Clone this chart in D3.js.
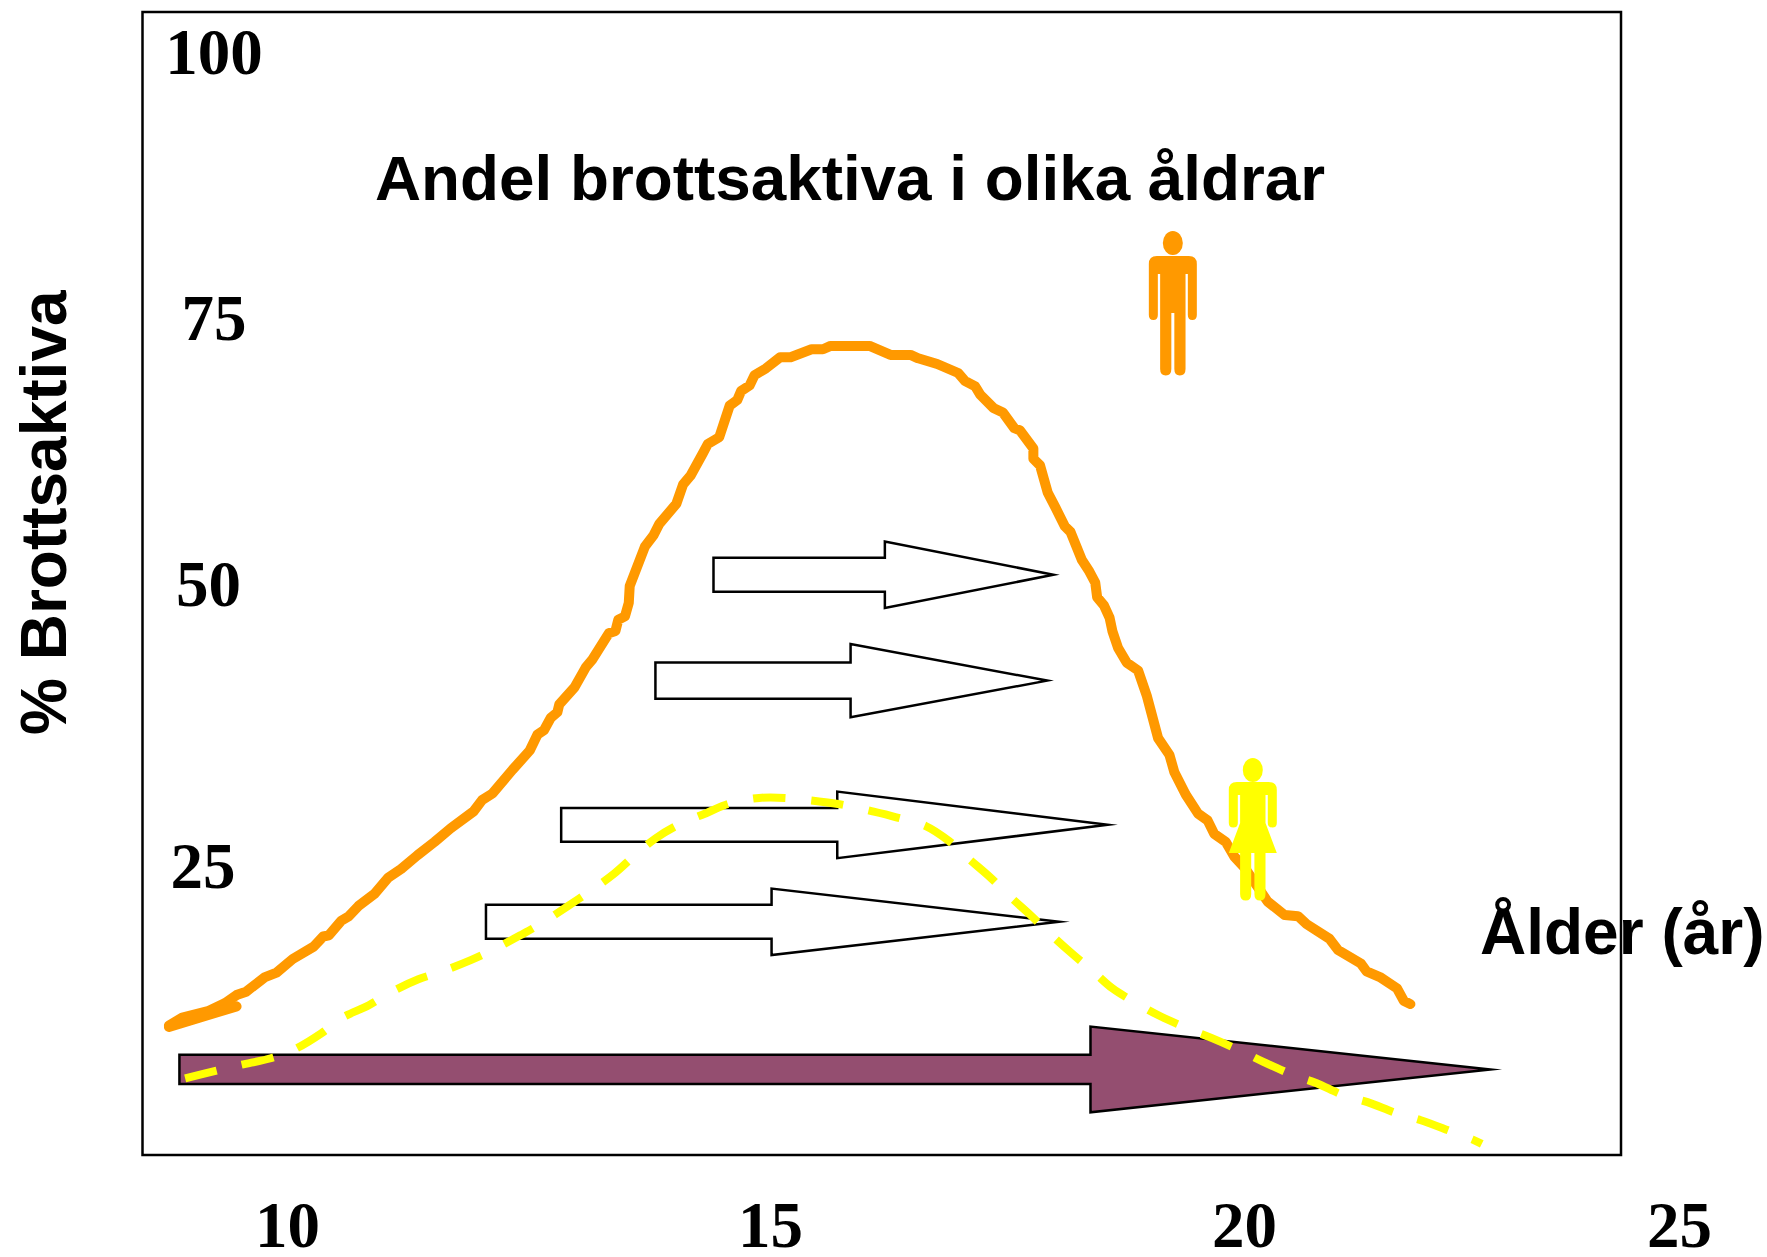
<!DOCTYPE html>
<html>
<head>
<meta charset="utf-8">
<script src="https://cdn.jsdelivr.net/npm/d3@7"></script>
<style>
  html, body { margin: 0; padding: 0; background: #fff; }
  svg { display: block; }
  .sans { font-family: "Liberation Sans", Arial, sans-serif; font-weight: bold; font-size: 64px; }
</style>
</head>
<body>
<div id="chart"></div>
<script>
var xTicks = [10, 15, 20, 25];
var yTicks = [25, 50, 75, 100];

// boys
var boysAge = [8.76, 8.90, 9.18, 9.35, 9.47, 9.57, 9.77, 9.89, 10.06, 10.28, 10.38, 10.44, 10.57, 10.65, 10.75, 10.92, 11.06, 11.20, 11.37, 11.55, 11.72, 11.96, 12.05, 12.16, 12.37, 12.55, 12.63, 12.70, 12.77, 12.84, 12.86, 13.02, 13.14, 13.21, 13.38, 13.45, 13.48, 13.55, 13.59, 13.60, 13.76, 13.85, 13.91, 14.09, 14.16, 14.24, 14.37, 14.42, 14.54, 14.65, 14.73, 14.77, 14.86, 14.91, 15.03, 15.18, 15.29, 15.51, 15.63, 15.71, 16.12, 16.34, 16.55, 16.63, 16.83, 17.05, 17.12, 17.23, 17.28, 17.42, 17.52, 17.64, 17.70, 17.84, 17.84, 17.91, 17.99, 18.07, 18.17, 18.23, 18.35, 18.42, 18.49, 18.51, 18.58, 18.64, 18.67, 18.73, 18.82, 18.94, 19.03, 19.15, 19.27, 19.32, 19.44, 19.57, 19.67, 19.74, 19.86, 19.95, 20.06, 20.18, 20.30, 20.48, 20.62, 20.71, 20.95, 21.04, 21.28, 21.34, 21.48, 21.66, 21.73, 21.80];
var boysPct = [10.44, 11.17, 11.79, 12.51, 13.24, 13.55, 14.90, 15.31, 16.56, 17.70, 18.63, 18.74, 20.08, 20.50, 21.43, 22.57, 24.02, 24.85, 26.10, 27.34, 28.59, 30.14, 31.18, 31.80, 33.98, 35.74, 37.19, 37.61, 38.75, 39.26, 39.99, 41.55, 43.41, 44.14, 46.52, 46.73, 47.77, 48.08, 49.32, 50.88, 54.51, 55.54, 56.58, 58.44, 60.21, 61.04, 63.11, 63.94, 64.56, 67.47, 67.98, 68.81, 69.33, 70.26, 70.89, 71.92, 71.92, 72.65, 72.65, 72.96, 72.96, 72.13, 72.13, 71.82, 71.30, 70.47, 69.75, 69.23, 68.50, 67.26, 66.84, 65.39, 65.18, 63.52, 62.59, 61.97, 59.48, 58.13, 56.37, 55.85, 53.26, 52.33, 51.19, 49.84, 49.11, 47.97, 46.73, 45.17, 43.83, 43.10, 40.82, 36.88, 35.32, 33.77, 31.70, 29.93, 29.31, 28.07, 27.34, 25.99, 24.95, 23.40, 21.85, 20.60, 20.50, 19.77, 18.42, 17.39, 16.14, 15.42, 14.90, 13.86, 12.72, 12.41];

// short straight stroke at the start of the boys curve
var stubAge = [8.76, 9.47];
var stubPct = [10.31, 12.20];

// girls
var girlsAge = [8.93, 9.26, 9.51, 9.83, 10.06, 10.36, 10.56, 10.86, 11.08, 11.38, 11.63, 11.93, 12.16, 12.45, 12.68, 12.95, 13.18, 13.44, 13.64, 13.87, 14.11, 14.42, 14.65, 14.96, 15.23, 15.57, 15.83, 16.15, 16.39, 16.71, 16.95, 17.16, 17.38, 17.60, 17.81, 18.02, 18.23, 18.48, 18.67, 18.96, 19.18, 19.50, 19.71, 20.03, 20.25, 20.57, 20.81, 21.10, 21.35, 21.66, 21.91, 22.23, 22.45, 22.55];
var girlsPct = [5.57, 6.29, 6.81, 7.43, 8.16, 9.72, 11.06, 12.31, 13.45, 14.69, 15.42, 16.45, 17.39, 18.74, 19.88, 21.43, 22.78, 24.44, 26.00, 27.65, 28.90, 30.04, 30.87, 31.38, 31.38, 31.07, 30.76, 30.14, 29.62, 28.79, 27.44, 25.79, 24.13, 22.26, 20.60, 18.84, 17.18, 15.32, 13.86, 12.31, 11.27, 10.03, 9.30, 8.06, 7.12, 5.88, 5.15, 4.01, 3.39, 2.35, 1.73, 0.69, -0.03, -0.45];

// arrows: four white ones, then the long purple one
var arrowTail = [14.48, 13.87, 12.88, 12.09, 8.87];
var arrowNeck = [16.28, 15.92, 15.78, 15.09, 18.44];
var arrowTip = [18.05, 17.985, 18.62, 18.11, 22.64];
var arrowMid = [51.91, 42.17, 28.90, 19.98, 6.40];
var arrowShaft = [1.56, 1.66, 1.56, 1.56, 1.35];
var arrowHead = [3.06, 3.37, 3.06, 3.06, 3.94];

var manAt = [19.305, 83.54];
var womanAt = [20.145, 35.05];

var orange = '#ff9900', yellow = '#ffff00', purple = '#944e70';

var svg = d3.select('#chart').append('svg')
	.attr('width', 1767)
	.attr('height', 1257);

var xScale = d3.scaleLinear().domain([10, 20]).range([287, 1239]);
var yScale = d3.scaleLinear().domain([0, 100]).range([1139, 52]);

// the printed labels are not evenly spaced
var xTickScale = d3.scaleLinear().domain(xTicks).range([287, 770, 1244, 1679]);
var yTickScale = d3.scaleLinear().domain(yTicks).range([866, 584, 318, 52]);
var yLabelX = { 25: 203, 50: 208.5, 75: 214, 100: 214 };

var line = d3.line()
	.x(function(d) { return xScale(d[0]); })
	.y(function(d) { return yScale(d[1]); });

// arrows
var arrows = arrowTail.map(function(t, i) {
	var m = arrowMid[i], s = arrowShaft[i], h = arrowHead[i], n = arrowNeck[i];
	return [[t, m + s], [n, m + s], [n, m + h], [arrowTip[i], m], [n, m - h], [n, m - s], [t, m - s]];
});

svg.append('g').selectAll('path')
	.data(arrows)
	.enter()
	.append('path')
	.attr('d', function(d) { return line(d) + 'Z'; })
	.attr('fill', function(d, i) { return i === 4 ? purple : '#fff'; })
	.attr('stroke', '#000')
	.attr('stroke-width', 2.5)
	.attr('stroke-miterlimit', 20);

// boys
svg.append('path')
	.attr('d', line(d3.zip(boysAge, boysPct)))
	.attr('fill', 'none')
	.attr('stroke', orange)
	.attr('stroke-width', 10)
	.attr('stroke-linejoin', 'round')
	.attr('stroke-linecap', 'round');

svg.append('path')
	.attr('d', line(d3.zip(stubAge, stubPct)))
	.attr('fill', 'none')
	.attr('stroke', orange)
	.attr('stroke-width', 10)
	.attr('stroke-linecap', 'round');

// girls
svg.append('path')
	.attr('d', d3.line()
		.x(function(d) { return xScale(d[0]); })
		.y(function(d) { return yScale(d[1]); })
		.curve(d3.curveCatmullRom.alpha(0.5))(d3.zip(girlsAge, girlsPct)))
	.attr('fill', 'none')
	.attr('stroke', yellow)
	.attr('stroke-width', 8)
	.attr('stroke-dasharray', '32.5 25.7');

// pictograms
var manPath = 'M-24,33Q-24,25 -16,25L16,25Q24,25 24,33L24,84Q24,89 19.5,89Q15,89 15,84L15,43L12.7,43L12.7,138Q12.7,144.5 7,144.5Q1.5,144.5 1.5,138L1.5,82L-1.5,82L-1.5,138Q-1.5,144.5 -7,144.5Q-12.7,144.5 -12.7,138L-12.7,43L-15,43L-15,84Q-15,89 -19.5,89Q-24,89 -24,84Z';
var womanPath = 'M-24,32Q-24,24 -16,24L16,24Q24,24 24,32L24,65Q24,69.5 19.5,69.5Q15,69.5 15,65L15,37L12.7,37L12.7,65L24,95L12.7,95L12.7,136Q12.7,142.6 7,142.6Q1.6,142.6 1.6,136L1.6,95L-1.6,95L-1.6,136Q-1.6,142.6 -7,142.6Q-12.7,142.6 -12.7,136L-12.7,95L-24,95L-12.7,65L-12.7,37L-15,37L-15,65Q-15,69.5 -19.5,69.5Q-24,69.5 -24,65Z';

function figure(at, d, color) {
	var g = svg.append('g')
		.attr('transform', 'translate(' + xScale(at[0]) + ',' + yScale(at[1]) + ')')
		.attr('fill', color);
	g.append('ellipse').attr('cx', 0).attr('cy', 12).attr('rx', 10).attr('ry', 12);
	g.append('path').attr('d', d);
}
figure(manAt, manPath, orange);
figure(womanAt, womanPath, yellow);

// axes
var xAxis = d3.axisBottom(xTickScale).tickValues(xTicks).tickSize(0).tickFormat(d3.format('d'));
var yAxis = d3.axisLeft(yTickScale).tickValues(yTicks).tickSize(0).tickFormat(d3.format('d'));

svg.append('g')
	.attr('transform', 'translate(0,1247)')
	.call(xAxis)
	.call(function(g) { g.select('.domain').remove(); })
	.selectAll('text')
	.attr('y', 0)
	.attr('dy', 0)
	.attr('fill', '#000')
	.style('font-family', '"Liberation Serif", "Times New Roman", serif')
	.style('font-weight', 'bold')
	.style('font-size', '65px');

svg.append('g')
	.call(yAxis)
	.call(function(g) { g.select('.domain').remove(); })
	.selectAll('text')
	.attr('x', function(d) { return yLabelX[d]; })
	.attr('dy', '.338em')
	.attr('fill', '#000')
	.style('text-anchor', 'middle')
	.style('font-family', '"Liberation Serif", "Times New Roman", serif')
	.style('font-weight', 'bold')
	.style('font-size', '65px');

// texts
svg.append('text').attr('class', 'sans')
	.attr('x', 375).attr('y', 200)
	.style('font-size', '63.8px')
	.text('Andel brottsaktiva i olika åldrar');

svg.append('text').attr('class', 'sans')
	.attr('x', 1480).attr('y', 954)
	.text('Ålder (år)');

svg.append('text').attr('class', 'sans')
	.attr('transform', 'translate(66,735) rotate(-90)')
	.text('% Brottsaktiva');

// frame goes on top
svg.append('rect')
	.attr('x', 142.5).attr('y', 12)
	.attr('width', 1478.5).attr('height', 1143)
	.attr('fill', 'none')
	.attr('stroke', '#000')
	.attr('stroke-width', 2.5);
</script>
</body>
</html>
